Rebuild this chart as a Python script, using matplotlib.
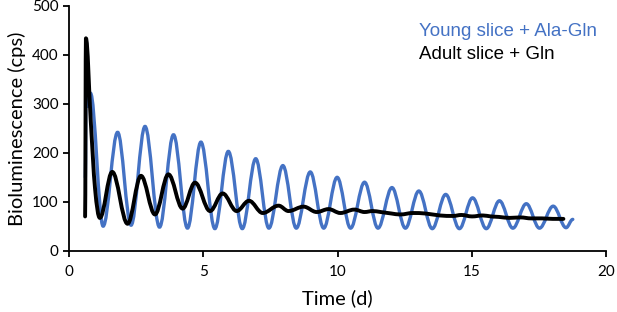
import matplotlib
matplotlib.use("Agg")
import matplotlib.pyplot as plt
from matplotlib.path import Path
from matplotlib.patches import PathPatch

# Young slice + Ala-Gln (blue): successive points (time in days, cps)
young_t = [0.61, 0.64, 0.72, 0.80, 1.27, 1.81, 2.31, 2.83, 3.37, 3.89, 4.41, 4.91,
           5.43, 5.93, 6.45, 6.95, 7.44, 7.96, 8.46, 8.98, 9.48, 9.98, 10.48, 11.00,
           11.50, 12.02, 12.52, 13.02, 13.52, 14.02, 14.53, 15.02, 15.53, 16.02,
           16.52, 17.02, 17.51, 18.02, 18.50, 18.75]
young_v = [150, 430, 295, 322, 50, 242, 52, 254, 48, 237, 46, 222,
           45, 203, 45, 188, 46, 174, 46, 161, 46, 150, 46, 140,
           46, 129, 46, 122, 45, 115, 45, 108, 45, 102,
           46, 96, 46, 91, 47, 64]

# Adult slice + Gln (black): successive points (time in days, cps)
adult_t = [0.60, 0.63, 0.81, 0.97, 1.15, 1.61, 2.18, 2.68, 3.20, 3.70, 4.23, 4.69,
           5.25, 5.72, 6.24, 6.70, 7.21, 7.80, 8.17, 8.73, 9.22, 9.66, 10.10, 10.62,
           11.00, 11.30, 11.60, 12.00, 12.33, 12.80, 13.26, 13.80, 14.30, 14.60,
           15.00, 15.40, 15.70, 16.00, 16.40, 16.80, 17.20, 17.60, 18.00, 18.40]
adult_v = [70, 434, 265, 127, 67, 161, 55, 153, 74, 156, 86, 139,
           81, 117, 81, 102, 77, 92, 81, 90, 79, 85, 77, 84,
           79, 81, 79, 76, 74, 77, 76, 72, 71, 73,
           70, 72, 70, 69, 67, 68, 66, 66, 65, 65]

x_ticks = [0, 5, 10, 15, 20]
y_ticks = [0, 100, 200, 300, 400, 500]
labels = ["Young slice + Ala-Gln", "Adult slice + Gln"]
colors = ["#4472C4", "#000000"]

fig = plt.figure(figsize=(6.17, 3.12), dpi=100)
ax = fig.add_axes([0.1118, 0.1965, 0.9828 - 0.1118, 0.9808 - 0.1965])


def smooth_path(ts, vs):
    # cubic Hermite segments: flat tangent at turning points, chord slope elsewhere
    n = len(ts)
    m = []
    for i in range(n):
        if i == 0 or i == n - 1:
            m.append(0.0)
            continue
        a, b, c = vs[i - 1], vs[i], vs[i + 1]
        if (b - a) * (c - b) <= 0:
            m.append(0.0)
        else:
            m.append((c - a) / (ts[i + 1] - ts[i - 1]))
    verts = [(ts[0], vs[0])]
    codes = [Path.MOVETO]
    for i in range(1, n):
        x0, y0 = ts[i - 1], vs[i - 1]
        x1, y1 = ts[i], vs[i]
        d = (x1 - x0) * 0.36
        verts += [(x0 + d, y0 + d * m[i - 1]), (x1 - d, y1 - d * m[i]), (x1, y1)]
        codes += [Path.CURVE4] * 3
    return Path(verts, codes)


for ts, vs, c, lw in [(young_t, young_v, colors[0], 2.4), (adult_t, adult_v, colors[1], 2.8)]:
    patch = PathPatch(smooth_path(ts, vs), facecolor="none", edgecolor=c, lw=lw,
                      capstyle="round", joinstyle="round", transform=ax.transData)
    ax.add_patch(patch)

ax.set_xlim(0, 20)
ax.set_ylim(0, 500)
ax.set_xticks(x_ticks)
ax.set_yticks(y_ticks)
for s in ["top", "right"]:
    ax.spines[s].set_visible(False)
for s in ["left", "bottom"]:
    ax.spines[s].set_linewidth(1.3)
    ax.spines[s].set_color("black")
ax.tick_params(direction="out", length=4, width=1.3, colors="black")
for lab in ax.get_xticklabels() + ax.get_yticklabels():
    lab.set_fontfamily("Lato")
    lab.set_fontsize(11)
ax.tick_params(axis="x", pad=6)
ax.set_xlabel("Time (d)", fontfamily="Lato", fontsize=14.5, labelpad=8)
ax.set_ylabel("Bioluminescence (cps)", fontfamily="Lato", fontsize=14.5, labelpad=4)

ax.text(0.652, 0.895, labels[0], transform=ax.transAxes, color=colors[0],
        fontfamily="Liberation Sans", fontsize=13.5, va="center", ha="left")
ax.text(0.652, 0.800, labels[1], transform=ax.transAxes, color=colors[1],
        fontfamily="Liberation Sans", fontsize=13.5, va="center", ha="left")

fig.savefig("out.png", dpi=100)
